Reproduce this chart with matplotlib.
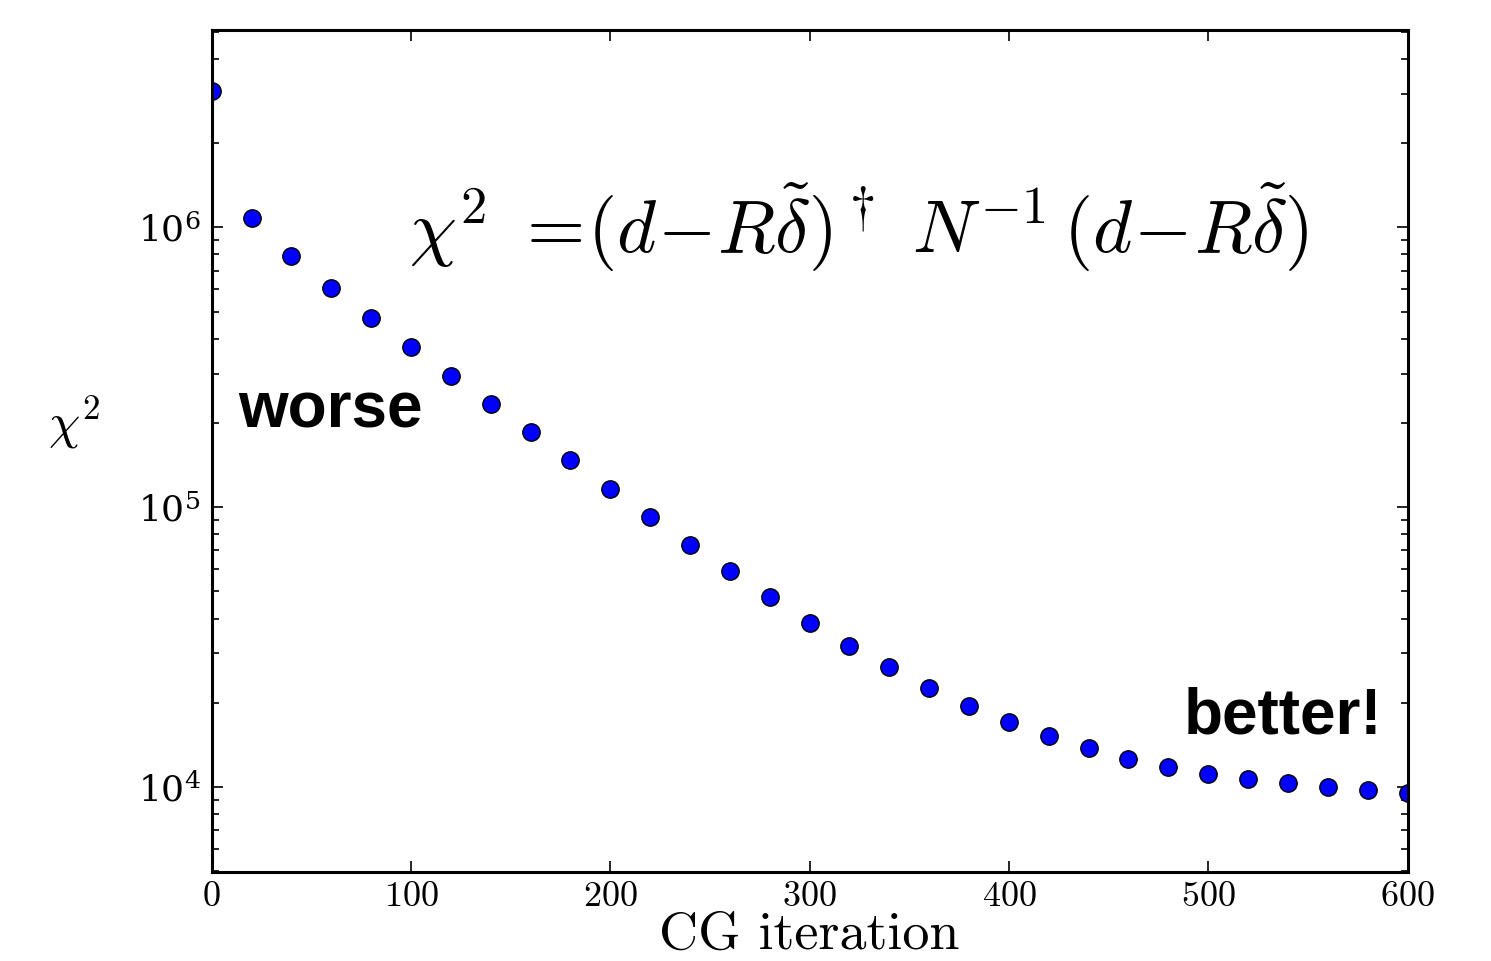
import numpy as np
import matplotlib
matplotlib.use('Agg')
import matplotlib.pyplot as plt
from matplotlib.ticker import FuncFormatter, LogLocator

plt.rcParams['mathtext.fontset'] = 'cm'
plt.rcParams['font.family'] = 'serif'

# CG iteration vs chi^2
iterations = [0, 20, 40, 60, 80, 100, 120, 140, 160, 180, 200, 220, 240, 260, 280, 300,
              320, 340, 360, 380, 400, 420, 440, 460, 480, 500, 520, 540, 560, 580, 600]
chi2 = [3.08e6, 1.08e6, 7.87e5, 6.05e5, 4.73e5, 3.73e5, 2.94e5, 2.33e5, 1.85e5, 1.47e5,
        1.16e5, 9.2e4, 7.31e4, 5.90e4, 4.77e4, 3.85e4, 3.19e4, 2.69e4, 2.26e4, 1.95e4,
        1.71e4, 1.52e4, 1.38e4, 1.26e4, 1.18e4, 1.11e4, 1.07e4, 1.03e4, 1.0e4, 9.76e3, 9.52e3]
xticks = [0, 100, 200, 300, 400, 500, 600]

fig = plt.figure(figsize=(14.91, 9.61), dpi=100)
ax = fig.add_axes([0.142, 0.0926, 0.802, 0.876])

ax.plot(iterations, chi2, 'o', color='#0000ff', markeredgecolor='black',
        markeredgewidth=1.0, markersize=12.5)

ax.set_yscale('log')
ax.set_xlim(0, 600)
ax.set_ylim(4.97e3, 5.06e6)
ax.set_xticks(xticks)
ax.xaxis.set_major_formatter(FuncFormatter(lambda v, p: r'$%d$' % v))
ax.yaxis.set_major_locator(LogLocator(base=10))
ax.yaxis.set_minor_locator(LogLocator(base=10, subs=np.arange(2, 10)))

ax.tick_params(which='both', direction='in', top=True, right=True, width=1.2)
ax.tick_params(which='major', length=8, labelsize=26, pad=8)
ax.tick_params(axis='x', which='major', pad=5)
ax.tick_params(which='minor', length=5)
for s in ax.spines.values():
    s.set_linewidth(2.2)

# x label in plain Computer Modern text, placed by baseline
fig.text(0.543, 0.013, 'CG iteration', family='cmr10', fontsize=39,
         ha='center', va='baseline')
ax.set_ylabel(r'$\chi^2$', fontsize=36, rotation=0)
ax.yaxis.set_label_coords(-0.115, 0.5)

ax.text(0.165, 0.735,
        r'$\chi^2\ =\!(d\!-\!R\tilde{\delta})^\dagger\ N^{-1}\,(d\!-\!R\tilde{\delta})$',
        transform=ax.transAxes, fontsize=54, ha='left', va='baseline')

ax.text(0.022, 0.528, 'worse', transform=ax.transAxes, fontsize=46,
        fontweight='bold', family='Liberation Sans', va='baseline')
ax.text(0.813, 0.164, 'better!', transform=ax.transAxes, fontsize=46,
        fontweight='bold', family='Liberation Sans', va='baseline')

fig.savefig('out.png', dpi=100)
